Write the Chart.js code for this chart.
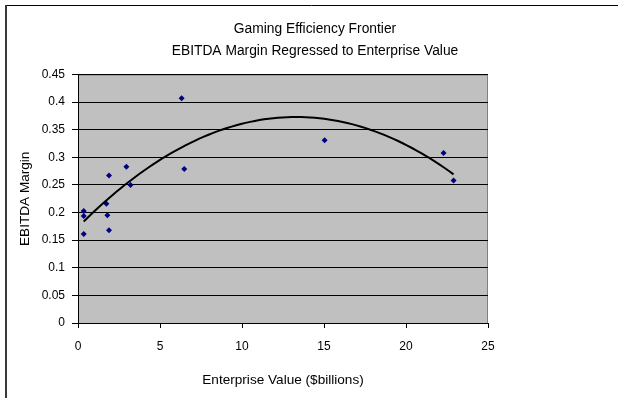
<!DOCTYPE html>
<html>
<head>
<meta charset="utf-8">
<title>Gaming Efficiency Frontier</title>
<script src="https://cdn.jsdelivr.net/npm/chart.js@4/dist/chart.umd.min.js"></script>
<style>
  html, body { margin: 0; padding: 0; background: #ffffff; }
  #wrap { width: 618px; height: 398px; }
</style>
</head>
<body>
<div id="wrap"><canvas id="chart" width="618" height="398"></canvas></div>
<script>
// Enterprise value ($ billions) and EBITDA margin for each gaming company
const enterpriseValue = [0.35, 0.35, 0.35, 1.73, 1.79, 1.89, 1.89, 2.95, 3.2, 6.32, 6.48, 15.04, 22.29, 22.9];
const ebitdaMargin    = [0.203, 0.194, 0.161, 0.216, 0.195, 0.267, 0.168, 0.283, 0.250, 0.407, 0.279, 0.331, 0.308, 0.258];

// Axis ranges and tick steps
const xAxisRange = [0, 25];
const xAxisStep = 5;
const yAxisRange = [0, 0.45];
const yAxisStep = 0.05;

const titleLines = ['Gaming Efficiency Frontier', 'EBITDA Margin Regressed to Enterprise Value'];
const xAxisTitle = 'Enterprise Value ($billions)';
const yAxisTitle = 'EBITDA Margin';

const FONT = "'Liberation Sans', Arial, sans-serif";

// Second-order least-squares trendline of margin on enterprise value
function quadraticFit(xs, ys) {
  let n = xs.length, sx = 0, sx2 = 0, sx3 = 0, sx4 = 0, sy = 0, sxy = 0, sx2y = 0;
  for (let i = 0; i < n; i++) {
    const x = xs[i], y = ys[i], x2 = x * x;
    sx += x; sx2 += x2; sx3 += x2 * x; sx4 += x2 * x2;
    sy += y; sxy += x * y; sx2y += x2 * y;
  }
  const M = [[n, sx, sx2, sy], [sx, sx2, sx3, sxy], [sx2, sx3, sx4, sx2y]];
  for (let c = 0; c < 3; c++) {
    let p = c;
    for (let r = c + 1; r < 3; r++) if (Math.abs(M[r][c]) > Math.abs(M[p][c])) p = r;
    [M[c], M[p]] = [M[p], M[c]];
    for (let r = 0; r < 3; r++) {
      if (r === c) continue;
      const f = M[r][c] / M[c][c];
      for (let k = c; k < 4; k++) M[r][k] -= f * M[c][k];
    }
  }
  return [M[0][3] / M[0][0], M[1][3] / M[1][1], M[2][3] / M[2][2]];
}

const coef = quadraticFit(enterpriseValue, ebitdaMargin);
const xLo = Math.min(...enterpriseValue), xHi = Math.max(...enterpriseValue);
const trendPoints = [];
for (let i = 0; i <= 80; i++) {
  const x = xLo + (xHi - xLo) * i / 80;
  trendPoints.push({ x, y: coef[0] + coef[1] * x + coef[2] * x * x });
}

// Grey plot background, grey frame on the plot, and the outer chart border
const frames = {
  id: 'frames',
  beforeDraw(chart) {
    const { ctx, chartArea: a } = chart;
    ctx.save();
    ctx.fillStyle = '#c0c0c0';
    ctx.fillRect(a.left, a.top, a.right - a.left, a.bottom - a.top);
    ctx.strokeStyle = '#808080';
    ctx.lineWidth = 1;
    ctx.beginPath();
    ctx.moveTo(a.left, a.top + 0.5);
    ctx.lineTo(a.right - 0.5, a.top + 0.5);
    ctx.lineTo(a.right - 0.5, a.bottom);
    ctx.stroke();
    // outer border
    ctx.strokeStyle = '#000000';
    ctx.beginPath();
    ctx.moveTo(5, 5.5);
    ctx.lineTo(chart.width, 5.5);
    ctx.stroke();
    ctx.strokeStyle = '#3a3a3a';
    ctx.lineWidth = 2;
    ctx.beginPath();
    ctx.moveTo(6, 5);
    ctx.lineTo(6, chart.height);
    ctx.stroke();
    ctx.restore();
  }
};

new Chart(document.getElementById('chart'), {
  type: 'scatter',
  data: {
    datasets: [
      {
        label: 'Companies',
        data: enterpriseValue.map((x, i) => ({ x, y: ebitdaMargin[i] })),
        pointStyle: 'rectRot',
        pointRadius: 3,
        pointHoverRadius: 3,
        backgroundColor: '#000080',
        borderColor: '#000080',
        borderWidth: 0,
        order: 1
      },
      {
        label: 'Poly. trend',
        type: 'line',
        data: trendPoints,
        borderColor: '#000000',
        borderWidth: 2,
        pointRadius: 0,
        fill: false,
        tension: 0,
        order: 0
      }
    ]
  },
  options: {
    responsive: false,
    animation: false,
    devicePixelRatio: 1,
    layout: { padding: { left: 12, top: 0, right: 0, bottom: 0 } },
    plugins: {
      legend: { display: false },
      tooltip: { enabled: false },
      title: {
        display: true,
        text: titleLines,
        color: '#000000',
        font: { family: FONT, size: 13.8, weight: 'normal', lineHeight: 1.56 },
        padding: { top: 18.75, bottom: 12.75 }
      }
    },
    scales: {
      x: {
        type: 'linear',
        position: 'bottom',
        min: xAxisRange[0],
        max: xAxisRange[1],
        afterFit(s) { s.height = 75; },
        ticks: {
          stepSize: xAxisStep,
          color: '#000000',
          font: { family: FONT, size: 12 },
          padding: 11.8,
          maxRotation: 0
        },
        grid: { drawOnChartArea: false, color: '#000000', tickLength: 5 },
        border: { display: true, color: '#000000', width: 1 },
        title: {
          display: true,
          text: xAxisTitle,
          color: '#000000',
          font: { family: FONT, size: 13.6 },
          padding: { top: 0, bottom: 9.8 }
        }
      },
      y: {
        type: 'linear',
        position: 'left',
        min: yAxisRange[0],
        max: yAxisRange[1],
        afterFit(s) { s.width = 66; },
        ticks: {
          stepSize: yAxisStep,
          color: '#000000',
          font: { family: FONT, size: 12 },
          padding: 7,
          callback: v => String(+v.toFixed(2))
        },
        grid: { color: '#000000', tickLength: 6, lineWidth: 1 },
        border: { display: true, color: '#000000', width: 1 },
        title: {
          display: true,
          text: yAxisTitle,
          color: '#000000',
          font: { family: FONT, size: 13.6 },
          padding: { top: 4.8, bottom: 0 }
        }
      },
      yRightSpace: {
        type: 'linear',
        position: 'right',
        display: true,
        afterFit(s) { s.width = 130; },
        ticks: { display: false },
        grid: { display: false },
        border: { display: false }
      }
    }
  },
  plugins: [frames]
});
</script>
</body>
</html>
